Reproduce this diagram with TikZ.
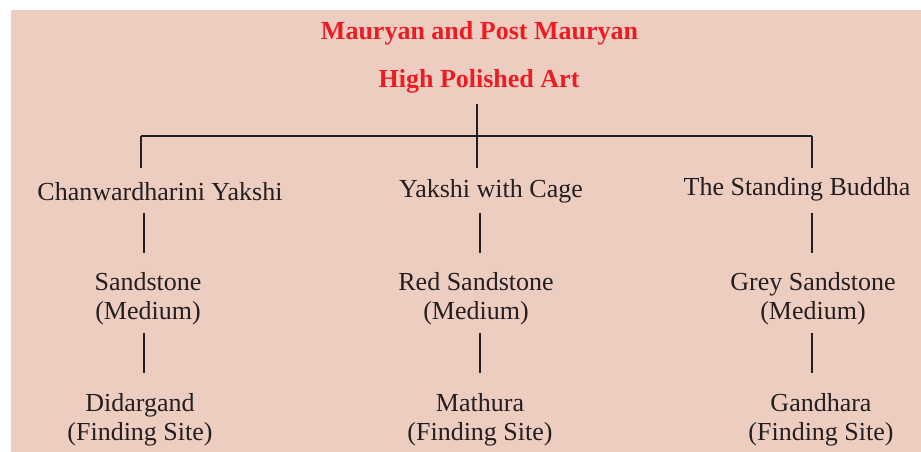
\documentclass[tikz,border=0pt]{standalone}
\usepackage{fontspec}
\setmainfont{Liberation Serif}
\definecolor{bg}{RGB}{238,205,193}
\definecolor{aka}{RGB}{237,28,36}
\definecolor{ink}{RGB}{35,31,32}
\begin{document}
\begin{tikzpicture}[x=1pt,y=-1pt,
 txt/.style={anchor=base,align=center,text=ink,inner sep=0pt,font=\fontsize{26}{29.5}\selectfont},
 ttl/.style={anchor=base,text=aka,inner sep=0pt,font=\fontsize{26}{30}\selectfont\bfseries},
 edge/.style={ink,line width=2pt}]
\useasboundingbox(0,0)rectangle(921,452);
\fill[bg](11,10)rectangle(921,452);%背景
\node[ttl](head)at(479.5,39.5){Mauryan and Post Mauryan};%表題
\node[ttl](art)at(479,88){High Polished Art};
\node[txt](yakshi)at(160,200){Chanwardharini Yakshi};%作品
\node[txt](cage)at(491,197){Yakshi with Cage};
\node[txt](buddha)at(797,195){The Standing Buddha};
\node[txt](sand)at(148,319.5){Sandstone\\(Medium)};%素材(下の行の基線)
\node[txt](redsand)at(476,319.5){Red Sandstone\\(Medium)};
\node[txt](greysand)at(813,319.5){Grey Sandstone\\(Medium)};
\node[txt](dida)at(140,440.5){Didargand\\(Finding Site)};%出土地
\node[txt](mathura)at(480,440.5){Mathura\\(Finding Site)};
\node[txt](gandhara)at(821,440.5){Gandhara\\(Finding Site)};
\coordinate(top)at(477,104);\coordinate(hub)at(477,136);%枝
\coordinate(left)at(141,136);\coordinate(right)at(812,136);
\draw[edge](top)--(hub);
\draw[edge](left)--(right);
\foreach \n in {left,hub,right}\draw[edge](\n)--++(0,32)coordinate(\n-end);
\foreach \n/\x in {a/144,b/480,c/812}{%縦線
 \coordinate(\n1)at(\x,213);\coordinate(\n2)at(\x,253);
 \coordinate(\n3)at(\x,333);\coordinate(\n4)at(\x,373);
 \draw[edge](\n1)--(\n2)(\n3)--(\n4);}
\end{tikzpicture}
\end{document}
